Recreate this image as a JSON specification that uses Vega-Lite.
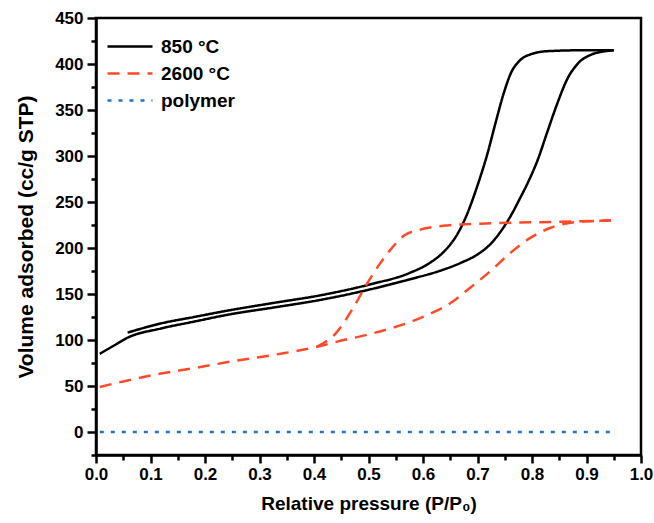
{
  "$schema": "https://vega.github.io/schema/vega-lite/v6.json",
  "width": 545,
  "height": 437,
  "autosize": {"type": "none"},
  "padding": {"left": 96, "top": 18, "right": 13, "bottom": 68},
  "background": "white",
  "config": {
    "view": {"stroke": "black", "strokeWidth": 2.5},
    "font": "Liberation Sans",
    "axis": {
      "domainColor": "black", "domainWidth": 2.5, "tickColor": "black", "tickWidth": 2.5,
      "grid": false, "labelFont": "Liberation Sans", "labelFontWeight": "bold", "labelFontSize": 17,
      "labelColor": "black", "titleFont": "Liberation Sans", "titleFontWeight": "bold",
      "titleFontSize": 19, "titleColor": "black"
    },
    "legend": {
      "labelFont": "Liberation Sans", "labelFontWeight": "bold", "labelFontSize": 19, "labelColor": "black"
    }
  },
  "data": {"values": [
    {"s": "850 °C", "b": "850a", "x": 0.007, "y": 85},
    {"s": "850 °C", "b": "850a", "x": 0.033, "y": 94},
    {"s": "850 °C", "b": "850a", "x": 0.058, "y": 102.5},
    {"s": "850 °C", "b": "850a", "x": 0.119, "y": 112.5},
    {"s": "850 °C", "b": "850a", "x": 0.18, "y": 120},
    {"s": "850 °C", "b": "850a", "x": 0.242, "y": 127.5},
    {"s": "850 °C", "b": "850a", "x": 0.328, "y": 135.5},
    {"s": "850 °C", "b": "850a", "x": 0.411, "y": 143.5},
    {"s": "850 °C", "b": "850a", "x": 0.503, "y": 155},
    {"s": "850 °C", "b": "850a", "x": 0.576, "y": 166},
    {"s": "850 °C", "b": "850a", "x": 0.63, "y": 175},
    {"s": "850 °C", "b": "850a", "x": 0.67, "y": 184},
    {"s": "850 °C", "b": "850a", "x": 0.70, "y": 193},
    {"s": "850 °C", "b": "850a", "x": 0.725, "y": 205},
    {"s": "850 °C", "b": "850a", "x": 0.745, "y": 220},
    {"s": "850 °C", "b": "850a", "x": 0.762, "y": 236},
    {"s": "850 °C", "b": "850a", "x": 0.778, "y": 254},
    {"s": "850 °C", "b": "850a", "x": 0.794, "y": 273},
    {"s": "850 °C", "b": "850a", "x": 0.810, "y": 295},
    {"s": "850 °C", "b": "850a", "x": 0.828, "y": 326},
    {"s": "850 °C", "b": "850a", "x": 0.847, "y": 358},
    {"s": "850 °C", "b": "850a", "x": 0.865, "y": 384},
    {"s": "850 °C", "b": "850a", "x": 0.885, "y": 401},
    {"s": "850 °C", "b": "850a", "x": 0.91, "y": 410.5},
    {"s": "850 °C", "b": "850a", "x": 0.93, "y": 413.5},
    {"s": "850 °C", "b": "850a", "x": 0.95, "y": 415},
    {"s": "850 °C", "b": "850d", "x": 0.058, "y": 108},
    {"s": "850 °C", "b": "850d", "x": 0.119, "y": 118},
    {"s": "850 °C", "b": "850d", "x": 0.18, "y": 125},
    {"s": "850 °C", "b": "850d", "x": 0.242, "y": 132},
    {"s": "850 °C", "b": "850d", "x": 0.328, "y": 140.5},
    {"s": "850 °C", "b": "850d", "x": 0.411, "y": 148.5},
    {"s": "850 °C", "b": "850d", "x": 0.503, "y": 160.5},
    {"s": "850 °C", "b": "850d", "x": 0.576, "y": 173},
    {"s": "850 °C", "b": "850d", "x": 0.613, "y": 184},
    {"s": "850 °C", "b": "850d", "x": 0.64, "y": 197},
    {"s": "850 °C", "b": "850d", "x": 0.662, "y": 214},
    {"s": "850 °C", "b": "850d", "x": 0.681, "y": 237},
    {"s": "850 °C", "b": "850d", "x": 0.700, "y": 268},
    {"s": "850 °C", "b": "850d", "x": 0.718, "y": 302},
    {"s": "850 °C", "b": "850d", "x": 0.734, "y": 338},
    {"s": "850 °C", "b": "850d", "x": 0.748, "y": 368},
    {"s": "850 °C", "b": "850d", "x": 0.762, "y": 391},
    {"s": "850 °C", "b": "850d", "x": 0.778, "y": 404},
    {"s": "850 °C", "b": "850d", "x": 0.80, "y": 411},
    {"s": "850 °C", "b": "850d", "x": 0.83, "y": 414},
    {"s": "850 °C", "b": "850d", "x": 0.90, "y": 415},
    {"s": "850 °C", "b": "850d", "x": 0.95, "y": 415},
    {"s": "2600 °C", "b": "2600a", "x": 0.007, "y": 49},
    {"s": "2600 °C", "b": "2600a", "x": 0.058, "y": 56},
    {"s": "2600 °C", "b": "2600a", "x": 0.119, "y": 63.5},
    {"s": "2600 °C", "b": "2600a", "x": 0.18, "y": 69.5},
    {"s": "2600 °C", "b": "2600a", "x": 0.242, "y": 76},
    {"s": "2600 °C", "b": "2600a", "x": 0.328, "y": 84},
    {"s": "2600 °C", "b": "2600a", "x": 0.405, "y": 92.5},
    {"s": "2600 °C", "b": "2600a", "x": 0.441, "y": 98},
    {"s": "2600 °C", "b": "2600a", "x": 0.503, "y": 106.5},
    {"s": "2600 °C", "b": "2600a", "x": 0.564, "y": 117},
    {"s": "2600 °C", "b": "2600a", "x": 0.613, "y": 128.5},
    {"s": "2600 °C", "b": "2600a", "x": 0.65, "y": 140},
    {"s": "2600 °C", "b": "2600a", "x": 0.687, "y": 157},
    {"s": "2600 °C", "b": "2600a", "x": 0.724, "y": 175},
    {"s": "2600 °C", "b": "2600a", "x": 0.761, "y": 195},
    {"s": "2600 °C", "b": "2600a", "x": 0.797, "y": 211},
    {"s": "2600 °C", "b": "2600a", "x": 0.834, "y": 222},
    {"s": "2600 °C", "b": "2600a", "x": 0.865, "y": 227},
    {"s": "2600 °C", "b": "2600a", "x": 0.90, "y": 229},
    {"s": "2600 °C", "b": "2600a", "x": 0.945, "y": 230},
    {"s": "2600 °C", "b": "2600d", "x": 0.405, "y": 92.5},
    {"s": "2600 °C", "b": "2600d", "x": 0.441, "y": 108},
    {"s": "2600 °C", "b": "2600d", "x": 0.472, "y": 135},
    {"s": "2600 °C", "b": "2600d", "x": 0.497, "y": 161},
    {"s": "2600 °C", "b": "2600d", "x": 0.521, "y": 183},
    {"s": "2600 °C", "b": "2600d", "x": 0.540, "y": 198},
    {"s": "2600 °C", "b": "2600d", "x": 0.564, "y": 213},
    {"s": "2600 °C", "b": "2600d", "x": 0.595, "y": 220},
    {"s": "2600 °C", "b": "2600d", "x": 0.644, "y": 224.5},
    {"s": "2600 °C", "b": "2600d", "x": 0.736, "y": 227},
    {"s": "2600 °C", "b": "2600d", "x": 0.85, "y": 228.5},
    {"s": "2600 °C", "b": "2600d", "x": 0.945, "y": 230},
    {"s": "polymer", "b": "poly", "x": 0.007, "y": 0},
    {"s": "polymer", "b": "poly", "x": 0.95, "y": 0}
  ]},
  "layer": [
    {
      "mark": {"type": "line", "interpolate": "monotone", "strokeWidth": 2.5},
      "encoding": {
        "x": {
          "field": "x", "type": "quantitative",
          "scale": {"domain": [0, 1], "nice": false, "zero": false},
          "axis": {
            "orient": "bottom",
            "title": "Relative pressure (P/P₀)", "titleFontSize": 19,
            "values": [0,0.1,0.2,0.3,0.4,0.5,0.6,0.7,0.8,0.9,1.0],
            "format": ".1f", "tickSize": 8,
            "labelPadding": 3, "titlePadding": 12, "labelFlush": false
          }
        },
        "y": {
          "field": "y", "type": "quantitative",
          "scale": {"domain": [-25, 450], "nice": false, "zero": false},
          "axis": {
            "orient": "left",
            "title": "Volume adsorbed (cc/g STP)", "titleFontSize": 21,
            "values": [0,50,100,150,200,250,300,350,400,450],
            "format": "d", "tickSize": 9,
            "labelPadding": 4, "titlePadding": 18, "labelFlush": false
          }
        },
        "color": {
          "field": "s", "type": "nominal",
          "scale": {"domain": ["850 °C", "2600 °C", "polymer"], "range": ["black", "#ff4a2a", "#1f73cc"]},
          "legend": {
            "title": null, "orient": "none", "legendX": 22.5, "legendY": 17,
            "symbolType": "M-2.25,0H2.25", "symbolSize": 400, "symbolStrokeWidth": 2.5,
            "labelOffset": 19.5, "rowPadding": 5
          }
        },
        "strokeDash": {
          "field": "s", "type": "nominal",
          "scale": {"domain": ["850 °C", "2600 °C", "polymer"], "range": [[1, 0], [12, 8], [4, 7]]},
          "legend": null
        },
        "detail": {"field": "b", "type": "nominal"}
      }
    },
    {
      "mark": {"type": "line", "strokeOpacity": 0},
      "encoding": {
        "x": {
          "field": "x", "type": "quantitative",
          "axis": {
            "orient": "bottom", "title": null, "labels": false, "domain": false,
            "values": [0.05,0.15,0.25,0.35,0.45,0.55,0.65,0.75,0.85,0.95],
            "tickSize": 5
          }
        },
        "y": {
          "field": "y", "type": "quantitative",
          "axis": {
            "orient": "left", "title": null, "labels": false, "domain": false,
            "values": [-25,25,75,125,175,225,275,325,375,425],
            "tickSize": 5
          }
        },
        "detail": {"field": "b", "type": "nominal"}
      }
    }
  ],
  "resolve": {"axis": {"x": "independent", "y": "independent"}}
}
